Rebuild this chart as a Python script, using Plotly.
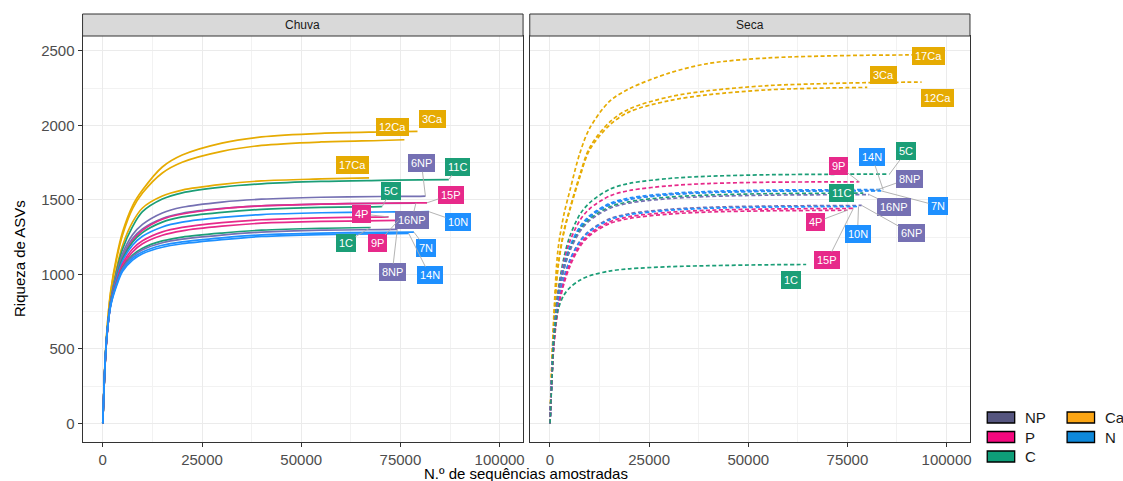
import plotly.graph_objects as go

# ---------------- DATA ----------------
# sampling depths (number of sequences) at which richness was read off the curves
grid_reads = [0, 500, 1000, 2000, 3500, 5000, 7500, 10000, 15000, 20000,
              30000, 40000, 55000, 70000, 80000, 90000]

groups = ["NP", "P", "C", "Ca", "N"]

# --- Chuva (rainy season) ---
chuva_samples = ["3Ca", "12Ca", "17Ca", "11C", "6NP", "16NP", "15P", "5C",
                 "10N", "4P", "9P", "1C", "8NP", "7N", "14N"]
chuva_groups = ["Ca", "Ca", "Ca", "C", "NP", "NP", "P", "C",
                "N", "P", "P", "C", "NP", "N", "N"]
chuva_end_reads = [79300, 76000, 67100, 87200, 81300, 78900, 81700, 70400,
                   82200, 72000, 74500, 67500, 74200, 78400, 77100]
chuva_end_asvs = [1959, 1903, 1647, 1636, 1524, 1478, 1480, 1455,
                  1420, 1385, 1362, 1314, 1302, 1283, 1274]
chuva_curves = [
    [0, 370, 610, 890, 1120, 1285, 1460, 1565, 1720, 1800, 1880, 1922, 1946, 1955],
    [0, 370, 605, 880, 1105, 1265, 1440, 1545, 1680, 1752, 1825, 1865, 1888, 1898],
    [0, 355, 580, 835, 1045, 1195, 1350, 1445, 1525, 1565, 1603, 1627, 1640],
    [0, 350, 570, 820, 1025, 1170, 1320, 1420, 1505, 1547, 1585, 1607, 1623, 1630, 1634],
    [0, 355, 580, 825, 1010, 1140, 1265, 1335, 1412, 1450, 1485, 1504, 1517, 1522, 1523],
    [0, 355, 580, 820, 995, 1120, 1240, 1305, 1375, 1410, 1442, 1460, 1471, 1476],
    [0, 350, 570, 805, 980, 1105, 1225, 1295, 1370, 1405, 1440, 1459, 1471, 1477, 1479],
    [0, 355, 580, 815, 985, 1105, 1215, 1280, 1350, 1385, 1416, 1436, 1449, 1454],
    [0, 360, 585, 815, 975, 1090, 1195, 1255, 1318, 1350, 1382, 1401, 1413, 1418, 1419],
    [0, 355, 575, 805, 960, 1070, 1170, 1225, 1285, 1315, 1347, 1366, 1379, 1384],
    [0, 355, 575, 800, 950, 1055, 1150, 1205, 1262, 1292, 1323, 1343, 1355, 1360],
    [0, 360, 585, 805, 945, 1045, 1128, 1175, 1224, 1250, 1277, 1296, 1309],
    [0, 360, 580, 800, 940, 1040, 1120, 1165, 1212, 1236, 1263, 1283, 1296, 1300],
    [0, 360, 580, 795, 935, 1030, 1108, 1150, 1195, 1218, 1245, 1265, 1277, 1281],
    [0, 360, 580, 790, 925, 1020, 1095, 1138, 1182, 1205, 1233, 1254, 1267, 1272],
]

# --- Seca (dry season) ---
seca_samples = ["17Ca", "12Ca", "3Ca", "5C", "9P", "14N", "8NP", "7N",
                "11C", "16NP", "6NP", "10N", "15P", "4P", "1C"]
seca_groups = ["Ca", "Ca", "Ca", "C", "P", "N", "NP", "N",
               "C", "NP", "NP", "N", "P", "P", "C"]
seca_end_reads = [91400, 93700, 80000, 85600, 78000, 84000, 82000, 83500,
                  79000, 80500, 78600, 77800, 76500, 75000, 64600]
seca_end_asvs = [2473, 2290, 2254, 1672, 1621, 1568, 1562, 1560,
                 1545, 1535, 1462, 1455, 1442, 1430, 1066]
seca_curves = [
    [0, 420, 740, 1160, 1400, 1560, 1810, 1980, 2160, 2245, 2350, 2415, 2452, 2465, 2470, 2472],
    [0, 400, 680, 1050, 1290, 1440, 1665, 1850, 2020, 2110, 2190, 2232, 2266, 2280, 2286, 2289],
    [0, 400, 675, 1040, 1280, 1430, 1650, 1835, 2000, 2090, 2165, 2205, 2238, 2250],
    [0, 330, 590, 880, 1110, 1255, 1400, 1480, 1570, 1610, 1643, 1658, 1668, 1671, 1672],
    [0, 330, 580, 860, 1080, 1220, 1360, 1440, 1525, 1562, 1594, 1609, 1618, 1620],
    [0, 330, 575, 845, 1055, 1185, 1318, 1393, 1475, 1512, 1542, 1556, 1565, 1567, 1568],
    [0, 325, 565, 835, 1045, 1175, 1308, 1384, 1466, 1503, 1535, 1549, 1558, 1561, 1562],
    [0, 330, 570, 840, 1050, 1180, 1310, 1385, 1467, 1503, 1534, 1548, 1557, 1559, 1560],
    [0, 325, 565, 830, 1035, 1165, 1295, 1370, 1452, 1487, 1518, 1532, 1541, 1544],
    [0, 320, 560, 825, 1028, 1155, 1285, 1360, 1442, 1478, 1508, 1522, 1531, 1534, 1535],
    [0, 315, 545, 790, 975, 1095, 1222, 1293, 1372, 1407, 1436, 1450, 1458, 1461],
    [0, 320, 550, 795, 975, 1092, 1217, 1287, 1365, 1400, 1429, 1443, 1451, 1454],
    [0, 310, 535, 770, 950, 1068, 1198, 1272, 1352, 1387, 1416, 1430, 1438, 1441],
    [0, 305, 525, 755, 935, 1052, 1184, 1260, 1340, 1375, 1404, 1418, 1426, 1429],
    [0, 300, 560, 760, 860, 910, 960, 990, 1022, 1037, 1051, 1058, 1064],
]

x_ticks = [0, 25000, 50000, 75000, 100000]
x_tick_labels = ["0", "25000", "50000", "75000", "100000"]
y_ticks = [0, 500, 1000, 1500, 2000, 2500]
y_tick_labels = ["0", "500", "1000", "1500", "2000", "2500"]

# ---------------- STYLE ----------------
W, H = 1123, 481
LINE_COLORS = {"NP": "#7570B3", "P": "#E7298A", "C": "#1B9E77",
               "Ca": "#E6AB02", "N": "#1E90FF"}
LEGEND_COLORS = {"NP": "#55557F", "P": "#F5087E", "C": "#0E9E78",
                 "Ca": "#FBA514", "N": "#0E88DA"}
FONT = "Liberation Sans, Arial, sans-serif"

# label offsets (pixels) from the curve end, and whether a leader segment is drawn
chuva_label_pos = {
    "3Ca": (15, -12, False), "12Ca": (-12, -13, False), "17Ca": (-17, -13, False),
    "11C": (9, -13, True), "6NP": (-4, -33, True), "15P": (24, -8, True),
    "16NP": (-4, 17, True), "5C": (9, -16, True), "10N": (29, 10, True),
    "4P": (-27, -3, True), "9P": (-21, 23, True), "1C": (-25, 15, True),
    "8NP": (-5, 43, True), "7N": (12, 16, True), "14N": (21, 42, True),
}
seca_label_pos = {
    "17Ca": (16, 1, False), "12Ca": (16, 16, False), "3Ca": (16, -12, False),
    "5C": (17, -23, True), "9P": (-21, -16, True), "14N": (-11, -33, True),
    "8NP": (34, -12, True), "7N": (57, 15, True), "11C": (-22, 0, False),
    "16NP": (25, 12, True), "6NP": (50, 28, True), "10N": (-1, 27, True),
    "15P": (-26, 52, True), "4P": (-32, 12, True), "1C": (-15, 16, False),
}


def px(xp):
    return xp / W


def py(yp):
    return 1 - yp / H


X_DOM_L = [px(82.7), px(524.0)]
X_DOM_R = [px(530.7), px(971.7)]
Y_DOM = [py(441.7), py(36.0)]
STRIP_Y = [py(36.0), py(14.0)]
X_RANGE = [-5100, 105900]
Y_RANGE = [-123, 2599]

fig = go.Figure()
annotations = []


def add_panel(samples, grps, end_x, end_y, curves, xref, yref, dash, label_pos):
    for name, g, ex, ey, vals in zip(samples, grps, end_x, end_y, curves):
        xs = [v for v in grid_reads if v < ex][:len(vals)] + [ex]
        ys = list(vals) + [ey]
        fig.add_trace(go.Scatter(
            x=xs, y=ys, mode="lines", xaxis=xref, yaxis=yref,
            line=dict(color=LINE_COLORS[g], width=1.7, dash=dash,
                      shape="spline", smoothing=0.9),
            showlegend=False, hoverinfo="skip"))
    for name, g, ex, ey in zip(samples, grps, end_x, end_y):
        dx, dy, leader = label_pos[name]
        annotations.append(dict(
            x=ex, y=ey, xref=xref, yref=yref, text=name,
            showarrow=True, ax=dx, ay=dy, axref="pixel", ayref="pixel",
            arrowhead=0, arrowwidth=0.9, standoff=0, startstandoff=0,
            arrowcolor="#AAAAAA" if leader else "rgba(0,0,0,0)",
            bgcolor=LINE_COLORS[g], bordercolor=LINE_COLORS[g], borderpad=2,
            font=dict(family=FONT, size=11, color="white")))


add_panel(chuva_samples, chuva_groups, chuva_end_reads, chuva_end_asvs,
          chuva_curves, "x", "y", "solid", chuva_label_pos)
add_panel(seca_samples, seca_groups, seca_end_reads, seca_end_asvs,
          seca_curves, "x2", "y2", "4px,2.5px", seca_label_pos)

axis_common = dict(
    showline=True, mirror=True, linecolor="#333333", linewidth=1,
    gridcolor="#EBEBEB", gridwidth=1, zeroline=False,
    ticks="outside", ticklen=4, tickcolor="#333333", tickwidth=1,
    tickfont=dict(family=FONT, size=15, color="#4D4D4D"),
)

shapes = []
for dom, title in [(X_DOM_L, "Chuva"), (X_DOM_R, "Seca")]:
    shapes.append(dict(type="rect", xref="paper", yref="paper",
                       x0=dom[0], x1=dom[1], y0=STRIP_Y[0], y1=STRIP_Y[1],
                       fillcolor="#D9D9D9", line=dict(color="#333333", width=1),
                       layer="above"))
    annotations.append(dict(x=(dom[0] + dom[1]) / 2, y=(STRIP_Y[0] + STRIP_Y[1]) / 2,
                            xref="paper", yref="paper", text=title, showarrow=False,
                            xanchor="center", yanchor="middle",
                            font=dict(family=FONT, size=12, color="#1A1A1A")))

# axis titles
annotations.append(dict(x=px(527), y=py(473.2), xref="paper", yref="paper",
                        text="N.º de sequências amostradas", showarrow=False,
                        xanchor="center", yanchor="middle",
                        font=dict(family=FONT, size=15, color="black")))
annotations.append(dict(x=px(19), y=py(258), xref="paper", yref="paper",
                        text="Riqueza de ASVs", showarrow=False, textangle=-90,
                        xanchor="center", yanchor="middle",
                        font=dict(family=FONT, size=15, color="black")))

# legend (drawn manually: two columns)
legend_layout = {"NP": (989, 412), "P": (989, 431.5), "C": (989, 451),
                 "Ca": (1069, 412), "N": (1069, 431.5)}
for g in groups:
    lx, ly = legend_layout[g]
    shapes.append(dict(type="rect", xref="paper", yref="paper",
                       x0=px(lx), x1=px(lx + 27.5), y0=py(ly + 11), y1=py(ly),
                       fillcolor=LEGEND_COLORS[g], line=dict(color="black", width=1.3)))
    annotations.append(dict(x=px(lx + 36), y=py(ly + 5.5), xref="paper", yref="paper",
                            text=g, showarrow=False, xanchor="left", yanchor="middle",
                            font=dict(family=FONT, size=15, color="#1A1A1A")))

x_minor = dict(tickvals=[12500, 37500, 62500, 87500], showgrid=True,
               gridcolor="#F2F2F2", gridwidth=0.6, ticks="")
y_minor = dict(tickvals=[250, 750, 1250, 1750, 2250], showgrid=True,
               gridcolor="#F2F2F2", gridwidth=0.6, ticks="")

fig.update_layout(
    width=W, height=H, margin=dict(l=0, r=0, t=0, b=0),
    paper_bgcolor="white", plot_bgcolor="white",
    font=dict(family=FONT),
    xaxis=dict(domain=X_DOM_L, range=X_RANGE, anchor="y", tickmode="array",
               tickvals=x_ticks, ticktext=x_tick_labels, minor=x_minor, **axis_common),
    xaxis2=dict(domain=X_DOM_R, range=X_RANGE, anchor="y2", tickmode="array",
                tickvals=x_ticks, ticktext=x_tick_labels, minor=x_minor, **axis_common),
    yaxis=dict(domain=Y_DOM, range=Y_RANGE, anchor="x", tickmode="array",
               tickvals=y_ticks, ticktext=y_tick_labels, minor=y_minor, **axis_common),
    yaxis2=dict(domain=Y_DOM, range=Y_RANGE, anchor="x2", tickmode="array",
                tickvals=y_ticks, ticktext=y_tick_labels, minor=y_minor,
                showticklabels=False, **{k: v for k, v in axis_common.items() if k != "ticks"},
                ticks=""),
    shapes=shapes, annotations=annotations,
    showlegend=False,
)

fig.write_html("out.html",
               config={"displayModeBar": False},
               post_script="document.body.style.margin='0px';"
                           "document.body.style.overflow='hidden';")
